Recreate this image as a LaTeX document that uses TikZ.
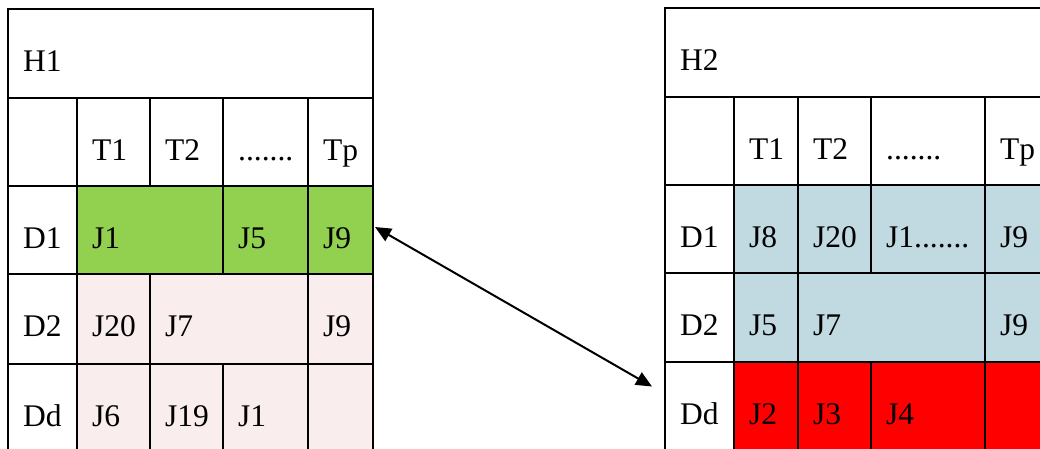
\documentclass[tikz,border=0pt]{standalone}
\usepackage{fontspec}
\setmainfont{Liberation Serif}
\usepackage{tikz}
\usetikzlibrary{arrows.meta,shapes}
\definecolor{jgreen}{RGB}{146,208,80}
\definecolor{jpink}{RGB}{249,238,237}
\definecolor{jblue}{RGB}{193,217,224}
\newcommand{\gridw}{1.3pt}
% name, x1, y1, x2, y2, fill, text
\newcommand{\cell}[7]{%
  \node[cellbox, fill=#6, minimum width={(#4-#2)*1pt}, minimum height={(#5-#3)*1pt}] (#1) at (#2,#3) {};
  \node[celltext] (#1t) at ([shift={(15,62)}]#1.north west) {#7};}

\begin{document}
\begin{tikzpicture}[x=1pt,y=-1pt]
            \tikzset{cellbox/.style = {draw, line width=\gridw, rectangle, anchor=north west, inner sep=0, outer sep=0}}
            \tikzset{celltext/.style = {anchor=base west, inner sep=0, font=\fontsize{31.5}{36}\selectfont}}
            \tikzset{conn/.style = {line width=2pt, >={Triangle[length=16pt,width=14pt]}, <->}}
            \useasboundingbox (0,0) rectangle (1040,448);
            \clip (0,0) rectangle (1040,448);
            
            % H1
            \cell{lh}{8}{9}{373}{98}{white}{H1}
            \cell{lt0}{8}{98}{77}{186}{white}{}
            \cell{lt1}{77}{98}{150}{186}{white}{T1}
            \cell{lt2}{150}{98}{223}{186}{white}{T2}
            \cell{lt3}{223}{98}{308}{186}{white}{.......}
            \cell{ltp}{308}{98}{373}{186}{white}{Tp}
            \cell{ld1}{8}{186}{77}{274}{white}{D1}
            \cell{la1}{77}{186}{223}{274}{jgreen}{J1}
            \cell{la2}{223}{186}{308}{274}{jgreen}{J5}
            \cell{la3}{308}{186}{373}{274}{jgreen}{J9}
            \cell{ld2}{8}{274}{77}{364}{white}{D2}
            \cell{lb1}{77}{274}{150}{364}{jpink}{J20}
            \cell{lb2}{150}{274}{308}{364}{jpink}{J7}
            \cell{lb3}{308}{274}{373}{364}{jpink}{J9}
            \cell{ldd}{8}{364}{77}{453}{white}{Dd}
            \cell{lc1}{77}{364}{150}{453}{jpink}{J6}
            \cell{lc2}{150}{364}{223}{453}{jpink}{J19}
            \cell{lc3}{223}{364}{308}{453}{jpink}{J1}
            \cell{lc4}{308}{364}{373}{453}{jpink}{}
            
            % H2
            \cell{rh}{665}{8}{1050}{97}{white}{H2}
            \cell{rt0}{665}{97}{734}{185}{white}{}
            \cell{rt1}{734}{97}{798}{185}{white}{T1}
            \cell{rt2}{798}{97}{871}{185}{white}{T2}
            \cell{rt3}{871}{97}{985}{185}{white}{.......}
            \cell{rtp}{985}{97}{1050}{185}{white}{Tp}
            \cell{rd1}{665}{185}{734}{273}{white}{D1}
            \cell{ra1}{734}{185}{798}{273}{jblue}{J8}
            \cell{ra2}{798}{185}{871}{273}{jblue}{J20}
            \cell{ra3}{871}{185}{985}{273}{jblue}{J1.......}
            \cell{ra4}{985}{185}{1050}{273}{jblue}{J9}
            \cell{rd2}{665}{273}{734}{362}{white}{D2}
            \cell{rb1}{734}{273}{798}{362}{jblue}{J5}
            \cell{rb2}{798}{273}{985}{362}{jblue}{J7}
            \cell{rb3}{985}{273}{1050}{362}{jblue}{J9}
            \cell{rdd}{665}{362}{734}{451}{white}{Dd}
            \cell{rc1}{734}{362}{798}{451}{red}{J2}
            \cell{rc2}{798}{362}{871}{451}{red}{J3}
            \cell{rc3}{871}{362}{985}{451}{red}{J4}
            \cell{rc4}{985}{362}{1050}{451}{red}{}
            
            \coordinate (p) at ([shift={(2,-3)}]la3.east);
            \coordinate (q) at ([shift={(-13,-20)}]rdd.west);
            \draw[conn] (p) -- (q);
\end{tikzpicture}
\end{document}
